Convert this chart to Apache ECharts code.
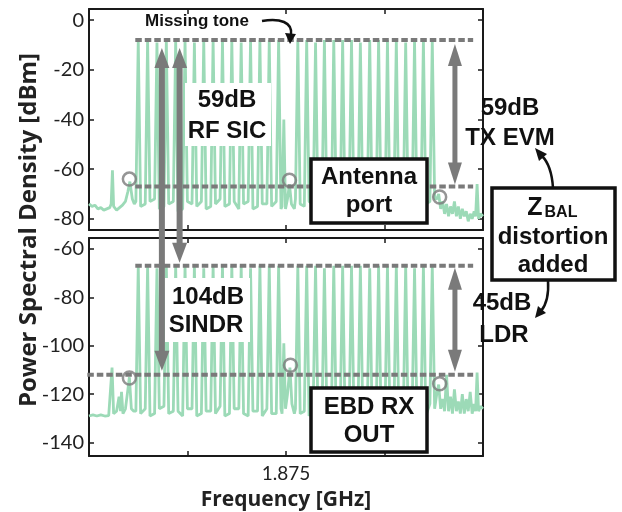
<!DOCTYPE html>
<html>
<head>
<meta charset="utf-8">
<title>PSD - Antenna port / EBD RX OUT</title>
<script src="https://cdn.jsdelivr.net/npm/echarts@6/dist/echarts.min.js"></script>
<style>
html, body { margin: 0; padding: 0; background: #fff; }
#chart { width: 622px; height: 512px; }
</style>
</head>
<body>
<div id="chart"></div>
<script>
// ---------------- data (x = MHz offset from 1.875 GHz) ----------------
// multitone frequencies, one tone missing near +0.3
const toneFreq = [-15.0, -14.05, -13.1, -12.15, -11.2, -10.25, -9.3, -8.35, -7.4, -6.45, -5.5, -4.55, -3.6, -2.65, -1.7, -0.75,
                  1.2, 2.1, 3.0, 3.9, 4.85, 5.75, 6.65, 7.55, 8.5, 9.4, 10.3, 11.2, 12.15, 13.05, 13.95, 14.85];

// antenna port (top panel), dBm
const antPeak = [-8, -8, -9, -8, -8, -8, -9, -8, -8, -8, -8, -9, -8, -8, -8, -8,
                 -8, -8, -9, -8, -8, -8, -8, -9, -8, -8, -8, -8, -9, -8, -8, -8];
const antRise = [-73, -74, -72, -75, -73, -76, -74, -73, -75, -72, -74, -76, -73, -75, -74, -73,
                 -72, -75, -74, -73, -76, -74, -72, -75, -73, -74, -76, -73, -75, -74, -72, -73];
const antDip = [-75, -73, -76, -74, -77, -73, -75, -76, -74, -75, -73, -74, -76, -74, -75, -76,
                -74, -73, -76, -75, -73, -77, -74, -75, -76, -73, -74, -75, -73, -76, -74, -72];
const antFloorFreq = [-20, -19.7, -19.4, -19.1, -18.8, -18.5, -18.2, -17.9, -17.75, -17.62, -17.5, -17.2, -16.9, -16.6, -16.3, -16.05, -15.85, -15.6, -15.4,
                      -0.4, -0.22, -0.05, 0.15, 0.35, 0.55, 0.85,
                      15.3, 15.5, 15.7, 15.9, 16.1, 16.3, 16.5, 16.7, 16.9, 17.1, 17.3, 17.5, 17.7, 17.9, 18.1, 18.3, 18.5, 18.7, 18.9, 19.1, 19.25, 19.4, 19.55, 19.75, 20];
const antFloorLevel = [-74, -75, -74.5, -76, -75.5, -76.5, -76, -75.5, -74, -60.5, -75, -76.5, -75.5, -74.5, -73, -69, -65, -72, -74,
                       -75, -40, -76, -72, -66, -74, -76,
                       -72, -70, -76, -73, -78, -74, -79, -75, -78, -73, -79, -75, -80, -76, -79, -77, -81, -78, -80, -77, -79, -66, -80, -78, -79];

// EBD RX out (bottom panel), dBm
const rxPeak = [-67, -67, -68, -67, -67, -67, -67, -68, -67, -67, -67, -67, -68, -67, -67, -67,
                -67, -67, -67, -68, -67, -67, -67, -67, -68, -67, -67, -67, -67, -68, -67, -67];
const rxRise = [-127, -126, -128, -125, -127, -129, -126, -128, -127, -125, -128, -126, -129, -127, -126, -128,
                -126, -127, -125, -128, -127, -126, -129, -127, -125, -128, -126, -127, -129, -126, -127, -124];
const rxDip = [-128, -129, -126, -128, -127, -126, -129, -127, -128, -129, -126, -128, -127, -129, -128, -126,
               -128, -129, -127, -126, -129, -128, -126, -127, -129, -128, -127, -126, -128, -127, -129, -126];
const rxFloorFreq = [-20, -19.6, -19.2, -18.8, -18.4, -18.0, -17.8, -17.66, -17.5, -17.2, -16.95, -16.8, -16.7, -16.55, -16.3, -16.05, -15.9, -15.7, -15.45,
                     -0.4, -0.22, -0.05, 0.15, 0.4, 0.6, 0.85,
                     15.3, 15.5, 15.7, 15.9, 16.1, 16.3, 16.5, 16.7, 16.9, 17.1, 17.3, 17.5, 17.7, 17.9, 18.1, 18.3, 18.5, 18.7, 18.9, 19.1, 19.25, 19.4, 19.55, 19.75, 20];
const rxFloorLevel = [-129, -128.5, -129, -128.5, -129, -128.8, -128, -109, -128, -127, -121, -127, -119, -128, -126, -118, -113, -126, -127,
                      -128, -99, -126, -120, -109, -124, -128,
                      -120, -116, -126, -122, -127, -112, -127, -121, -128, -118, -127, -123, -128, -120, -128, -122, -127, -119, -128, -124, -127, -111, -127, -125, -126];

// marked distortion products (circles)
const antCircleFreq = [-15.9, 0.35, 15.6];
const antCircleLevel = [-64, -64.5, -71.2];
const rxCircleFreq = [-15.9, 0.45, 15.6];
const rxCircleLevel = [-113.3, -108, -115.7];

// reference levels (dashed lines) and measured spans
const antTop = -8, antFloor = -67;   // 59 dB TX EVM
const rxTop = -67, rxFloor = -112;   // 45 dB LDR
const sindrFreq = -12.6, sicFreq = -10.8, evmFreq = 17.15;

// ---------------- chart ----------------
const GREEN = '#9cdab7';
const GREY = '#7a7a7a';
const INK = '#1a1a1a';

function buildSpectrum(peak, rise, dip, floorF, floorL) {
    const pts = [];
    toneFreq.forEach((f, i) => {
        pts.push([f - 0.24, rise[i]], [f, peak[i]], [f + 0.24, dip[i]]);
    });
    floorF.forEach((f, i) => pts.push([f, floorL[i]]));
    return pts.sort((a, b) => a[0] - b[0]);
}

function xAx(grid, pos, labels) {
    return {
        type: 'value', gridIndex: grid, position: pos, min: -20, max: 20, interval: 10,
        axisLine: { show: true, onZero: false, lineStyle: { color: INK, width: 2 } },
        axisTick: { show: true, inside: true, length: 5, lineStyle: { color: INK, width: 1.5 } },
        splitLine: { show: false },
        axisLabel: labels ? {
            show: true, margin: 8, color: '#222', fontFamily: 'Lato', fontSize: 19,
            formatter: v => (v === 0 ? '1.875' : '')
        } : { show: false },
        name: labels ? 'Frequency [GHz]' : '',
        nameLocation: 'middle', nameGap: 34,
        nameTextStyle: { color: '#222', fontFamily: 'Open Sans', fontWeight: 'bold', fontSize: 21 }
    };
}

function yAx(grid, pos, min, max, labels) {
    return {
        type: 'value', gridIndex: grid, position: pos, min: min, max: max,
        axisLine: { show: true, onZero: false, lineStyle: { color: INK, width: 2 } },
        axisTick: { show: true, inside: true, length: 5, lineStyle: { color: INK, width: 1.5 } },
        splitLine: { show: false },
        axisLabel: labels ? {
            show: true, margin: 5, color: '#222', fontFamily: 'Lato', fontSize: 20,
            formatter: v => (v % 20 === 0 ? String(v) : '')
        } : { show: false }
    };
}

function dashed(xi, yi, x0, x1, y) {
    return {
        type: 'line', xAxisIndex: xi, yAxisIndex: yi, data: [[x0, y], [x1, y]],
        symbol: 'none', clip: false, silent: true, z: 5,
        lineStyle: { color: GREY, width: 4, type: [6.5, 3] }
    };
}

function circles(xi, yi, fs, ls) {
    return {
        type: 'scatter', xAxisIndex: xi, yAxisIndex: yi, z: 6, silent: true,
        data: fs.map((f, i) => [f, ls[i]]),
        symbol: 'circle', symbolSize: 13,
        itemStyle: { color: 'rgba(0,0,0,0)', borderColor: GREY, borderWidth: 2.5 }
    };
}

const chart = echarts.init(document.getElementById('chart'));
chart.setOption({
    animation: false,
    backgroundColor: '#fff',
    grid: [
        { left: 89, top: 9, width: 394, height: 221 },
        { left: 89, top: 238, width: 394, height: 221 }
    ],
    xAxis: [xAx(0, 'bottom', false), xAx(0, 'top', false), xAx(1, 'bottom', true), xAx(1, 'top', false)],
    yAxis: [yAx(0, 'left', -84.5, 4.5, true), yAx(0, 'right', -84.5, 4.5, false),
            yAx(1, 'left', -145.5, -55.5, true), yAx(1, 'right', -145.5, -55.5, false)],
    series: [
        {
            type: 'line', xAxisIndex: 0, yAxisIndex: 0, symbol: 'none', silent: true, z: 2,
            data: buildSpectrum(antPeak, antRise, antDip, antFloorFreq, antFloorLevel),
            lineStyle: { color: GREEN, width: 2.8 }
        },
        {
            type: 'line', xAxisIndex: 2, yAxisIndex: 2, symbol: 'none', silent: true, z: 2,
            data: buildSpectrum(rxPeak, rxRise, rxDip, rxFloorFreq, rxFloorLevel),
            lineStyle: { color: GREEN, width: 2.8 }
        },
        dashed(0, 0, -15.3, 19.0, antTop),
        dashed(0, 0, -15.3, 19.0, antFloor),
        dashed(2, 2, -15.3, 19.0, rxTop),
        dashed(2, 2, -22.1, 19.0, rxFloor),
        circles(0, 0, antCircleFreq, antCircleLevel),
        circles(2, 2, rxCircleFreq, rxCircleLevel)
    ]
});

// ---------------- annotations ----------------
const pxTop = (x, y) => chart.convertToPixel({ xAxisIndex: 0, yAxisIndex: 0 }, [x, y]);
const pxBot = (x, y) => chart.convertToPixel({ xAxisIndex: 2, yAxisIndex: 2 }, [x, y]);

function vArrow(x, y1, y2, shaft, headW, headL) {
    return [
        { type: 'rect', z: 100, shape: { x: x - shaft / 2, y: y1 + headL - 1, width: shaft, height: y2 - y1 - 2 * headL + 2 },
          style: { fill: GREY } },
        { type: 'polygon', z: 100, shape: { points: [[x, y1], [x - headW / 2, y1 + headL], [x + headW / 2, y1 + headL]] },
          style: { fill: GREY } },
        { type: 'polygon', z: 100, shape: { points: [[x, y2], [x - headW / 2, y2 - headL], [x + headW / 2, y2 - headL]] },
          style: { fill: GREY } }
    ];
}

function label(text, x, y, size, align) {
    return {
        type: 'text', z: 110, x: x, y: y,
        style: {
            text: text, fill: '#111', font: 'bold ' + size + 'px "Liberation Sans", Arial, sans-serif',
            align: align || 'center', verticalAlign: 'middle',
            textAlign: align || 'center', textVerticalAlign: 'middle'
        }
    };
}

function box(x, y, w, h, border) {
    return {
        type: 'rect', z: 105, shape: { x: x, y: y, width: w, height: h },
        style: border ? { fill: '#fff', stroke: '#111', lineWidth: 3.5 } : { fill: '#fff' }
    };
}

const sindrTop = pxTop(sindrFreq, antTop), sindrBot = pxBot(sindrFreq, rxFloor);
const sicTop = pxTop(sicFreq, antTop), sicBot = pxBot(sicFreq, rxTop);
const evmTop = pxTop(evmFreq, antTop), evmBot = pxTop(evmFreq, antFloor);
const ldrTop = pxBot(evmFreq, rxTop), ldrBot = pxBot(evmFreq, rxFloor);

const g = [];
g.push(...vArrow(sindrTop[0], sindrTop[1] + 8, sindrBot[1] - 4, 6, 15, 20));
g.push(...vArrow(sicTop[0], sicTop[1] + 8, sicBot[1] - 3, 6, 15, 20));
g.push(...vArrow(evmTop[0], evmTop[1] + 4, evmBot[1] - 2, 5, 14, 22));
g.push(...vArrow(ldrTop[0], ldrTop[1] + 2, ldrBot[1] - 3, 5, 14, 22));

// white label backgrounds
g.push(box(185, 83, 86, 63, false), label('59dB', 227, 100, 24), label('RF SIC', 227, 131, 24));
g.push(box(165, 278, 85, 64, false), label('104dB', 208, 297, 24), label('SINDR', 206, 325, 24));

// missing tone call-out
g.push(label('Missing tone', 145, 21, 17, 'left'));
g.push({ type: 'bezierCurve', z: 110,
         shape: { x1: 262, y1: 21, cpx1: 280, cpy1: 18, cpx2: 293, cpy2: 22, x2: 291, y2: 35 },
         style: { stroke: '#111', lineWidth: 2.5, fill: null } });
g.push({ type: 'polygon', z: 110, shape: { points: [[290, 44], [285, 33], [296, 34]] }, style: { fill: '#111' } });

// framed labels
g.push(box(311, 159, 116, 64, true), label('Antenna', 369, 177, 24), label('port', 369, 205, 24));
g.push(box(311, 388, 116, 64, true), label('EBD RX', 369, 407, 24), label('OUT', 369, 435, 24));

g.push(label('59dB', 510, 108, 24), label('TX EVM', 510, 138, 24));
g.push(label('45dB', 502, 303, 24), label('LDR', 504, 335, 24));

g.push(box(492, 188, 123, 92, true));
g.push(label('Z', 535, 208, 25), label('BAL', 561, 213, 16));
g.push(label('distortion', 553, 237, 24), label('added', 553, 265, 24));

// curved arrows from the Z_BAL box
g.push({ type: 'bezierCurve', z: 110,
         shape: { x1: 553, y1: 188, cpx1: 552, cpy1: 172, cpx2: 548, cpy2: 162, x2: 542, y2: 156 },
         style: { stroke: '#111', lineWidth: 2.5, fill: null } });
g.push({ type: 'polygon', z: 110, shape: { points: [[535, 148], [547, 154], [539, 161]] }, style: { fill: '#111' } });
g.push({ type: 'bezierCurve', z: 110,
         shape: { x1: 548, y1: 280, cpx1: 549, cpy1: 295, cpx2: 546, cpy2: 305, x2: 541, y2: 311 },
         style: { stroke: '#111', lineWidth: 2.5, fill: null } });
g.push({ type: 'polygon', z: 110, shape: { points: [[535, 318], [538, 306], [546, 313]] }, style: { fill: '#111' } });

// y axis title spanning both panels
g.push({
    type: 'text', z: 110, x: 29, y: 230, rotation: Math.PI / 2,
    style: {
        text: 'Power Spectral Density [dBm]', fill: '#222',
        font: 'bold 24px "Open Sans", sans-serif',
        align: 'center', verticalAlign: 'middle', textAlign: 'center', textVerticalAlign: 'middle'
    }
});

chart.setOption({ graphic: g });
</script>
</body>
</html>
